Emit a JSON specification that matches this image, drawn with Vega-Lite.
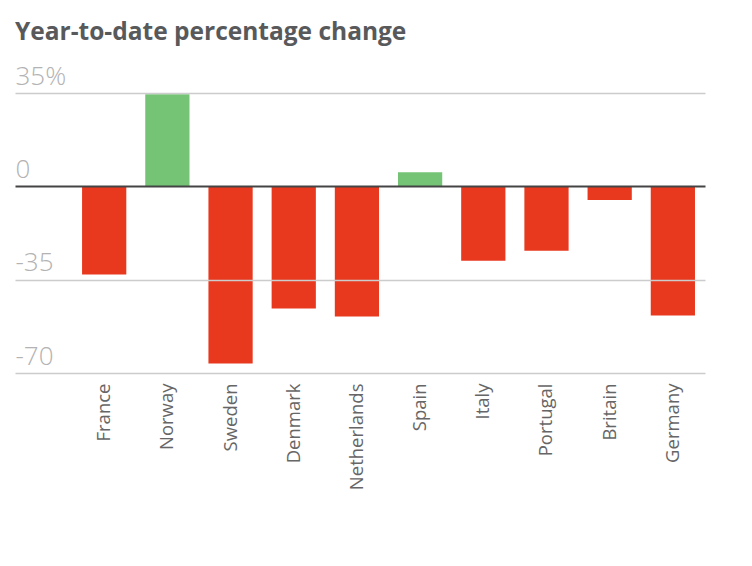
{
  "$schema": "https://vega.github.io/schema/vega-lite/v6.json",
  "width": 690,
  "height": 280,
  "autosize": {"type": "none"},
  "padding": {"left": 15, "top": 93, "right": 47, "bottom": 193},
  "background": "white",
  "title": {
    "text": "Year-to-date percentage change",
    "anchor": "start",
    "frame": "group",
    "font": "Open Sans",
    "fontSize": 24.5,
    "fontWeight": "bold",
    "color": "#58595b",
    "offset": 18
  },
  "data": {
    "values": [
      {"country": "France", "change": -33.1},
      {"country": "Norway", "change": 34.5},
      {"country": "Sweden", "change": -66.4},
      {"country": "Denmark", "change": -45.8},
      {"country": "Netherlands", "change": -48.8},
      {"country": "Spain", "change": 5.3},
      {"country": "Italy", "change": -27.9},
      {"country": "Portugal", "change": -24.2},
      {"country": "Britain", "change": -5.1},
      {"country": "Germany", "change": -48.4}
    ]
  },
  "mark": {"type": "bar"},
  "encoding": {
    "x": {
      "field": "country",
      "type": "nominal",
      "sort": null,
      "scale": {"paddingInner": 0.3, "paddingOuter": 0.61, "align": 0.87},
      "axis": {
        "title": null,
        "labelAngle": -90,
        "labelAlign": "right",
        "labelBaseline": "middle",
        "labelFont": "Open Sans",
        "labelFontSize": 18.5,
        "labelColor": "#666666",
        "labelPadding": 10,
        "ticks": false,
        "domain": false,
        "grid": false
      }
    },
    "y": {
      "field": "change",
      "type": "quantitative",
      "scale": {"domain": [-70, 35], "nice": false, "zero": false},
      "axis": {
        "title": null,
        "values": [35, 0, -35, -70],
        "labelExpr": "datum.value == 35 ? '35%' : '' + datum.value",
        "labelAlign": "left",
        "labelBaseline": "alphabetic",
        "labelOffset": -9,
        "labelPadding": 0,
        "labelFont": "Open Sans",
        "labelFontWeight": 300,
        "labelFontSize": 26,
        "labelColor": "#b3b3b3",
        "ticks": false,
        "domain": false,
        "grid": true,
        "gridColor": {"condition": {"test": "datum.value === 0", "value": "#444444"}, "value": "#cccccc"},
        "gridWidth": {"condition": {"test": "datum.value === 0", "value": 2}, "value": 1.5},
        "zindex": 1
      }
    },
    "color": {
      "condition": {"test": "datum.change >= 0", "value": "#75c475"},
      "value": "#e8381e"
    }
  },
  "config": {"view": {"stroke": null}}
}
